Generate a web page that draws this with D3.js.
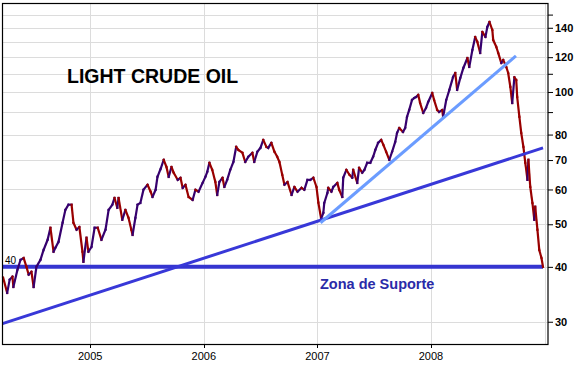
<!DOCTYPE html>
<html><head><meta charset="utf-8">
<script src="https://cdn.jsdelivr.net/npm/d3@7"></script>
<style>body{margin:0;background:#fff}svg{display:block}</style>
</head><body>
<script>
const dates = ["2004-03-27","2004-04-09","2004-04-17","2004-04-26","2004-04-29","2004-05-12","2004-05-22","2004-06-01","2004-06-10","2004-06-17","2004-06-26","2004-07-03","2004-07-12","2004-07-25","2004-08-04","2004-08-17","2004-08-26","2004-09-05","2004-09-11","2004-09-21","2004-10-04","2004-10-13","2004-10-23","2004-11-02","2004-11-08","2004-11-18","2004-11-27","2004-12-07","2004-12-10","2004-12-20","2004-12-26",
"2005-01-05","2005-01-15","2005-01-25","2005-02-06","2005-02-19","2005-03-01","2005-03-13","2005-03-20","2005-03-29","2005-04-02","2005-04-14","2005-04-24","2005-05-04","2005-05-13","2005-05-17","2005-05-26","2005-06-02","2005-06-11","2005-06-21","2005-07-04","2005-07-14","2005-07-20","2005-07-30","2005-08-05","2005-08-15","2005-08-25","2005-09-03","2005-09-10","2005-09-19","2005-09-26","2005-10-09","2005-10-18","2005-10-25","2005-11-03","2005-11-13","2005-11-26","2005-12-05","2005-12-15","2005-12-28",
"2006-01-06","2006-01-12","2006-01-19","2006-01-28","2006-02-07","2006-02-13","2006-02-20","2006-03-02","2006-03-08","2006-03-17","2006-03-27","2006-04-06","2006-04-15","2006-04-22","2006-05-05","2006-05-14","2006-05-24","2006-06-06","2006-06-12","2006-06-22","2006-07-02","2006-07-11","2006-07-21","2006-07-27","2006-08-06","2006-08-16","2006-08-25","2006-09-01","2006-09-10","2006-09-17","2006-09-27","2006-10-10","2006-10-19","2006-10-29","2006-11-11","2006-11-20","2006-11-30","2006-12-09","2006-12-19","2006-12-29",
"2007-01-04","2007-01-13","2007-01-20","2007-01-23","2007-02-02","2007-02-05","2007-02-15","2007-02-21","2007-03-06","2007-03-12","2007-03-22","2007-03-25","2007-04-04","2007-04-14","2007-04-23","2007-04-26","2007-05-09","2007-05-15","2007-05-25","2007-06-01","2007-06-10","2007-06-20","2007-06-29","2007-07-06","2007-07-15","2007-07-25","2007-08-01","2007-08-10","2007-08-20","2007-08-29","2007-09-08","2007-09-14","2007-09-21","2007-10-03","2007-10-10","2007-10-16","2007-10-23","2007-11-01","2007-11-08","2007-11-14","2007-11-21","2007-11-27","2007-12-07","2007-12-16","2007-12-23",
"2008-01-05","2008-01-11","2008-01-21","2008-01-27","2008-02-06","2008-02-09","2008-02-19","2008-02-29","2008-03-12","2008-03-19","2008-03-25","2008-04-04","2008-04-14","2008-04-27","2008-05-03","2008-05-13","2008-05-22","2008-05-29","2008-06-07","2008-06-14","2008-06-24","2008-06-30","2008-07-07","2008-07-16","2008-07-19","2008-07-29","2008-08-04","2008-08-14","2008-08-20","2008-08-30","2008-09-05","2008-09-12","2008-09-18","2008-09-25","2008-10-01","2008-10-04","2008-10-11","2008-10-17","2008-10-24","2008-10-30","2008-11-06","2008-11-09","2008-11-15","2008-11-22","2008-11-28","2008-12-01","2008-12-08","2008-12-14","2008-12-21","2008-12-26"];
const prices = [37.8,34.9,37.4,38.0,36.0,39.4,41.5,41.9,40.0,38.4,39.0,36.0,40.0,41.5,43.7,46.1,49.1,43.3,44.2,45.6,50.4,53.9,55.4,55.4,50.4,48.6,49.3,43.3,41.1,46.6,43.3,
44.4,49.1,49.1,46.1,48.6,53.9,55.4,57.4,54.5,57.4,51.2,53.9,51.7,48.6,47.3,51.7,55.4,55.9,59.9,61.5,59.3,57.7,59.9,64.1,66.8,70.1,67.5,64.1,67.5,65.5,63.1,63.8,60.5,61.5,57.7,56.8,59.9,59.3,62.1,
64.1,65.8,69.0,66.5,62.4,58.3,62.4,63.8,60.8,63.1,66.5,69.3,75.0,73.8,72.7,69.3,71.2,72.7,69.3,73.1,74.6,77.8,75.0,74.6,76.6,73.1,71.2,69.3,64.8,61.5,62.4,58.3,60.8,59.3,60.5,59.9,63.1,63.1,63.8,60.8,
56.0,51.5,53.1,55.9,58.9,60.5,59.3,60.8,62.1,59.9,57.7,63.8,66.5,64.8,63.8,66.5,62.1,67.2,65.5,66.5,69.0,69.0,71.2,73.8,76.6,77.8,75.8,73.1,70.1,73.1,77.0,80.7,82.8,81.1,82.8,87.8,91.0,95.9,96.9,97.4,98.5,94.4,89.6,92.0,94.9,
99.5,95.9,91.0,90.1,91.0,87.8,95.9,101.1,108.2,110.5,101.1,107.6,113.4,119.5,114.0,124.6,133.4,130.0,122.7,137.0,133.4,140.6,144.3,138.4,131.3,126.6,122.7,116.4,118.3,114.0,110.5,102.7,94.4,108.0,106.5,97.4,87.8,80.7,75.0,69.0,63.1,70.1,60.8,55.9,51.2,54.8,48.6,43.7,41.9,40.0];

const yearLabels = ["2005","2006","2007","2008"];
const gridYears = ["2005","2006","2007","2008","2009"];
const priceTicks = [30,40,50,60,70,80,90,100,110,120,130,140,150];
const priceLabels = [30,40,50,60,70,80,100,120,140];
const supportLevel = 40;
const supportDates = ["2004-03-25","2008-12-26"];
const trendLongDates = ["2004-03-25","2008-12-26"];
const trendLongPrices = [29.7,74.6];
const trendShortDates = ["2007-01-11","2008-09-30"];
const trendShortPrices = [50.4,120.8];
const titleText = "LIGHT CRUDE OIL";
const supportText = "Zona de Suporte";

const W = 579, H = 365;
const L = 2.5, R = 548, T = 3, B = 344;
const parse = d3.utcParse("%Y-%m-%d");
const x = d3.scaleUtc().domain([parse("2004-03-25"), parse("2009-01-11")]).range([L, R]);
const y = d3.scaleLog().domain([26.7, 159.4]).range([B, T]);

const svg = d3.select("body").append("svg").attr("width", W).attr("height", H)
  .style("font-family", "'Liberation Sans', Arial, sans-serif");

// grid
svg.append("g").selectAll("line").data(priceTicks).join("line")
  .attr("x1", L).attr("x2", R)
  .attr("y1", d => Math.round(y(d)) + 0.5).attr("y2", d => Math.round(y(d)) + 0.5)
  .attr("stroke", "#dcdcdc").attr("stroke-width", 1);
svg.append("g").selectAll("line").data(gridYears).join("line")
  .attr("x1", d => Math.round(x(parse(d + "-01-01"))) + 0.5)
  .attr("x2", d => Math.round(x(parse(d + "-01-01"))) + 0.5)
  .attr("y1", T).attr("y2", B)
  .attr("stroke", "#dcdcdc").attr("stroke-width", 1);

// bottom ticks + labels
svg.append("g").selectAll("line").data(yearLabels).join("line")
  .attr("x1", d => Math.round(x(parse(d + "-01-01"))) + 0.5)
  .attr("x2", d => Math.round(x(parse(d + "-01-01"))) + 0.5)
  .attr("y1", B).attr("y2", B + 4).attr("stroke", "#000");
svg.append("g").selectAll("text").data(yearLabels).join("text")
  .attr("x", d => x(parse(d + "-01-01")))
  .attr("y", 360).attr("text-anchor", "middle")
  .attr("font-size", "11px").attr("fill", "#000").text(d => d);

// right axis
const yAxis = d3.axisRight(y).tickValues(priceTicks).tickSize(5)
  .tickFormat(d => priceLabels.includes(d) ? d : "");
const ag = svg.append("g").attr("transform", `translate(${R},0)`).call(yAxis);
ag.select(".domain").remove();
ag.selectAll("line").attr("stroke", "#000");
ag.selectAll("text").attr("font-size", "11px").attr("font-weight", "bold")
  .attr("font-family", "'Liberation Sans', Arial, sans-serif").attr("fill", "#000").attr("x", 7);

// support line
svg.append("line")
  .attr("x1", x(parse(supportDates[0]))).attr("x2", x(parse(supportDates[1])))
  .attr("y1", y(supportLevel)).attr("y2", y(supportLevel))
  .attr("stroke", "#3535d0").attr("stroke-width", 4);

// price segments
const pts = dates.map((d, i) => ({ t: parse(d), p: prices[i] }));
const segs = d3.pairs(pts);
svg.append("g").selectAll("line").data(segs).join("line")
  .attr("x1", d => x(d[0].t)).attr("y1", d => y(d[0].p))
  .attr("x2", d => x(d[1].t)).attr("y2", d => y(d[1].p))
  .attr("stroke", d => d[1].p >= d[0].p ? "#36006e" : "#990000")
  .attr("stroke-width", 2.2).attr("stroke-linecap", "square");

// trend lines
const lineGen = d3.line().x(d => x(d[0])).y(d => y(d[1]));
svg.append("path")
  .attr("d", lineGen(trendLongDates.map((d, i) => [parse(d), trendLongPrices[i]])))
  .attr("stroke", "#3838d8").attr("stroke-width", 3).attr("fill", "none");
svg.append("path")
  .attr("d", lineGen(trendShortDates.map((d, i) => [parse(d), trendShortPrices[i]])))
  .attr("stroke", "#6b9cff").attr("stroke-width", 3).attr("fill", "none");

// frame
svg.append("rect").attr("x", L).attr("y", T + 0.5).attr("width", R - L).attr("height", B - T)
  .attr("fill", "none").attr("stroke", "#000").attr("stroke-width", 1.2);

// texts
svg.append("text").attr("x", 5).attr("y", y(supportLevel) - 3)
  .attr("font-size", "10px").attr("fill", "#000").text(supportLevel);
svg.append("text").attr("x", 67).attr("y", 83)
  .attr("font-size", "19.5px").attr("font-weight", "bold").attr("fill", "#000").text(titleText);
svg.append("text").attr("x", 320).attr("y", 289)
  .attr("font-size", "14.5px").attr("font-weight", "bold").attr("fill", "#2a2aa8").text(supportText);
</script>
</body></html>
